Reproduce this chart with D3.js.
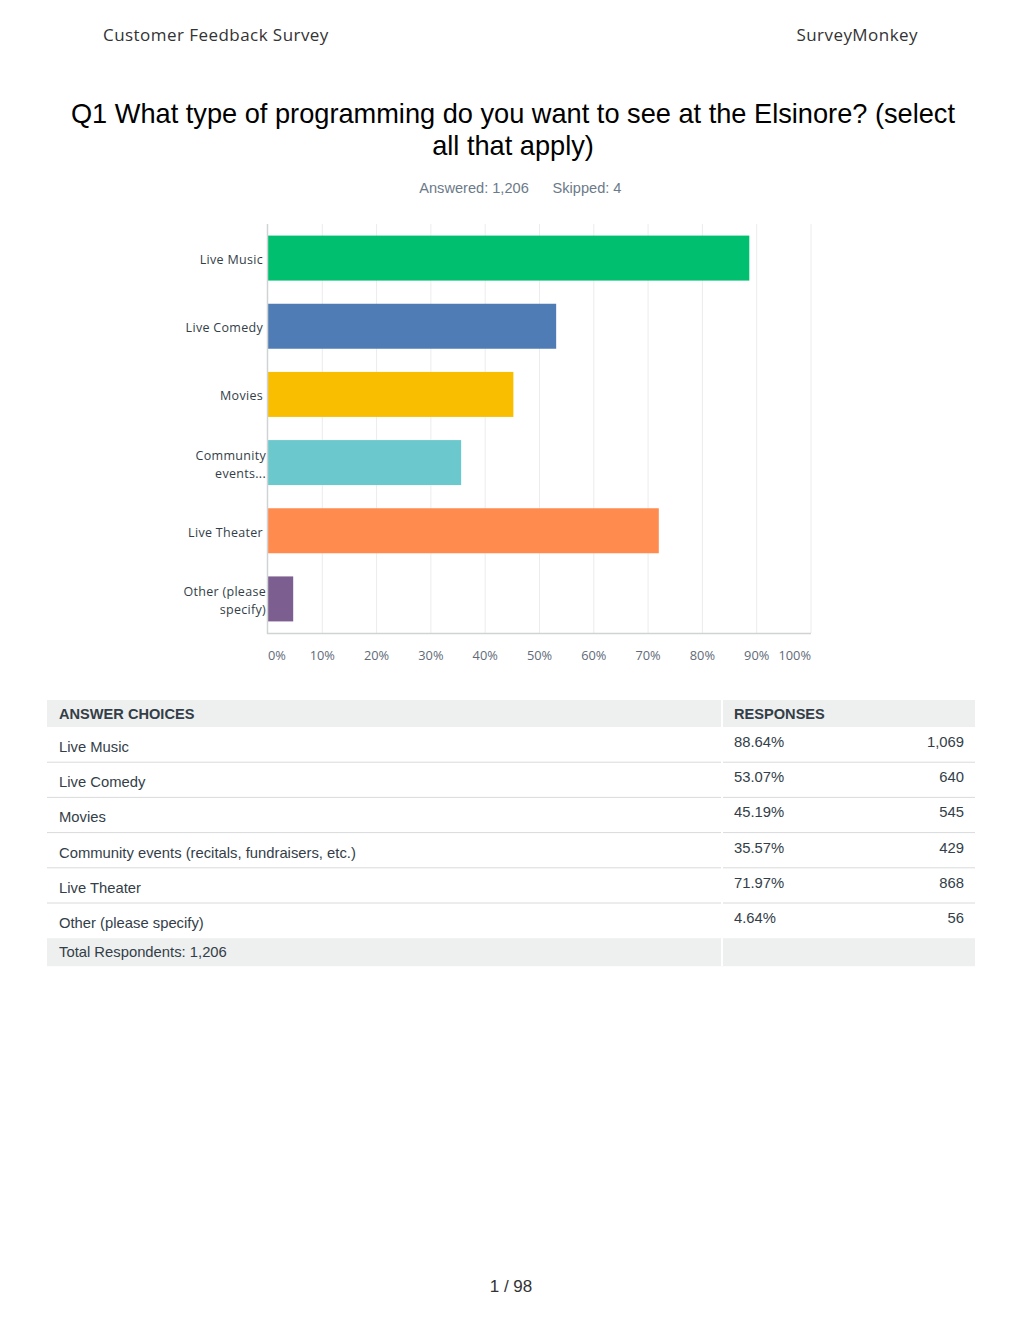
<!DOCTYPE html>
<html><head><meta charset="utf-8">
<script src="https://cdn.jsdelivr.net/npm/d3@7"></script>
<style>body{margin:0;background:#fff}</style>
</head><body><svg id="c" width="1020" height="1320"></svg>
<script>
const categories = ["Live Music","Live Comedy","Movies","Community events (recitals, fundraisers, etc.)","Live Theater","Other (please specify)"];
const axisLabels = [["Live Music"],["Live Comedy"],["Movies"],["Community","events..."],["Live Theater"],["Other (please","specify)"]];
const percents = [88.64,53.07,45.19,35.57,71.97,4.64];
const counts = [1069,640,545,429,868,56];
const colors = ["#00bf6f","#507cb6","#f9be00","#6bc8cd","#ff8b4f","#7d5e90"];
const tickValues = [0,10,20,30,40,50,60,70,80,90,100];
const answered = 1206, skipped = 4, totalRespondents = 1206;

const svg = d3.select("#c");
const sans = "'Open Sans', sans-serif";
const arial = "'Liberation Sans', Arial, sans-serif";

// page header
svg.append("text").attr("x",103).attr("y",41).attr("font-family",sans).attr("font-size",17).attr("letter-spacing",0.45).attr("fill","#333").text("Customer Feedback Survey");
svg.append("text").attr("x",918).attr("y",41).attr("text-anchor","end").attr("font-family",sans).attr("font-size",17).attr("letter-spacing",0.45).attr("fill","#333").text("SurveyMonkey");

// title
const title = ["Q1 What type of programming do you want to see at the Elsinore? (select","all that apply)"];
title.forEach((t,i)=>svg.append("text").attr("x",513).attr("y",123+i*32).attr("text-anchor","middle").attr("font-family",arial).attr("font-size",27.2).attr("fill","#000").text(t));
svg.append("text").attr("x",474).attr("y",193).attr("text-anchor","middle").attr("font-family",arial).attr("font-size",14.6).attr("fill","#6b7a89").text("Answered: " + d3.format(",")(answered));
svg.append("text").attr("x",587).attr("y",193).attr("text-anchor","middle").attr("font-family",arial).attr("font-size",14.6).attr("fill","#6b7a89").text("Skipped: " + skipped);

// chart
const x = d3.scaleLinear().domain([0,100]).range([268,811]);
const y = d3.scaleBand().domain(categories).range([224,633]).paddingInner(0.34).paddingOuter(0.17);

const g = svg.append("g");
g.selectAll("line.grid").data(tickValues.slice(1)).join("line")
  .attr("x1",d=>x(d)).attr("x2",d=>x(d)).attr("y1",224).attr("y2",633)
  .attr("stroke","#ececec").attr("stroke-width",1);

g.selectAll("rect.bar").data(categories).join("rect")
  .attr("x",x(0)).attr("y",d=>y(d)).attr("height",y.bandwidth())
  .attr("width",(d,i)=>x(percents[i])-x(0)).attr("fill",(d,i)=>colors[i]);

// axes lines
g.append("line").attr("x1",267.5).attr("x2",267.5).attr("y1",224).attr("y2",634).attr("stroke","#d0d2d3").attr("stroke-width",1.5);
g.append("line").attr("x1",267).attr("x2",811).attr("y1",633.5).attr("y2",633.5).attr("stroke","#d0d2d3").attr("stroke-width",1.5);

// tick labels
g.selectAll("text.tick").data(tickValues).join("text")
  .attr("x",d=>x(d))
  .attr("text-anchor",d=> d===0 ? "start" : d===100 ? "end" : "middle")
  .attr("y",660).attr("font-family",sans).attr("font-size",12.8).attr("fill","#5f6b78")
  .text(d=>d+"%");

// category labels
categories.forEach((c,i)=>{
  const lines = axisLabels[i];
  const cy = y(c)+y.bandwidth()/2;
  lines.forEach((l,j)=>{
    svg.append("text").attr("x", lines.length>1 ? 266 : 263)
      .attr("y", cy + 6 + (j-(lines.length-1)/2)*18)
      .attr("text-anchor","end").attr("font-family",sans).attr("font-size",12.5).attr("letter-spacing",0.3)
      .attr("fill","#333e48").text(l);
  });
});

// table
const tx0 = 47, tx1 = 975, tdiv = 722;
const t = svg.append("g");
const tf = 14.8;
t.append("rect").attr("x",tx0).attr("y",700).attr("width",tx1-tx0).attr("height",27).attr("fill","#eeefef");
t.append("rect").attr("x",tdiv-1).attr("y",700).attr("width",2).attr("height",27).attr("fill","#fff");
t.append("text").attr("x",59).attr("y",719).attr("font-family",arial).attr("font-size",14.6).attr("font-weight","bold").attr("fill","#333e48").text("ANSWER CHOICES");
t.append("text").attr("x",734).attr("y",719).attr("font-family",arial).attr("font-size",14.6).attr("font-weight","bold").attr("fill","#333e48").text("RESPONSES");

const rowH = 35.2, row0 = 727;
categories.forEach((c,i)=>{
  const top = row0 + i*rowH;
  t.append("text").attr("x",59).attr("y",top+25).attr("font-family",arial).attr("font-size",tf).attr("fill","#333e48").text(c);
  t.append("text").attr("x",734).attr("y",top+20).attr("font-family",arial).attr("font-size",tf).attr("fill","#333e48").text(percents[i].toFixed(2)+"%");
  t.append("text").attr("x",964).attr("y",top+20).attr("text-anchor","end").attr("font-family",arial).attr("font-size",tf).attr("fill","#333e48").text(d3.format(",")(counts[i]));
  if (i < categories.length-1) {
    t.append("line").attr("x1",tx0).attr("x2",tdiv-1).attr("y1",top+rowH).attr("y2",top+rowH).attr("stroke","#d9dadb").attr("stroke-width",1);
    t.append("line").attr("x1",tdiv+1).attr("x2",tx1).attr("y1",top+rowH).attr("y2",top+rowH).attr("stroke","#d9dadb").attr("stroke-width",1);
  }
});
const totTop = row0 + categories.length*rowH;
t.append("rect").attr("x",tx0).attr("y",totTop).attr("width",tx1-tx0).attr("height",28).attr("fill","#eeefef");
t.append("rect").attr("x",tdiv-1).attr("y",totTop).attr("width",2).attr("height",28).attr("fill","#fff");
t.append("text").attr("x",59).attr("y",totTop+19).attr("font-family",arial).attr("font-size",tf).attr("fill","#333e48").text("Total Respondents: " + d3.format(",")(totalRespondents));

// footer
svg.append("text").attr("x",511).attr("y",1292).attr("text-anchor","middle").attr("font-family",arial).attr("font-size",17).attr("fill","#333").text("1 / 98");
</script></body></html>
